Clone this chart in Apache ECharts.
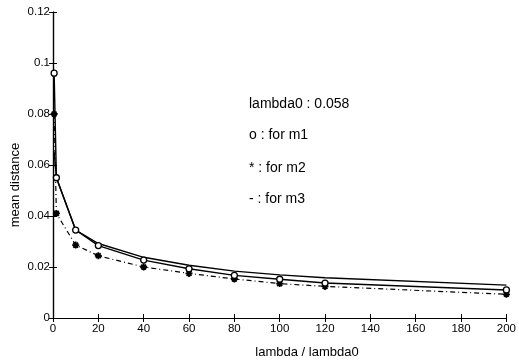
<!DOCTYPE html>
<html>
<head>
<meta charset="utf-8">
<script src="https://cdn.jsdelivr.net/npm/echarts@6/dist/echarts.min.js"></script>
<style>html,body{margin:0;padding:0;background:#fff}#c{width:519px;height:361px}</style>
</head>
<body>
<div id="c"></div>
<script>
var xValues = [0.5, 1.5, 10, 20, 40, 60, 80, 100, 120, 200];
var m1 = [0.096, 0.055, 0.0345, 0.0284, 0.0227, 0.0193, 0.0167, 0.0152, 0.0137, 0.0110];
var m2 = [0.080, 0.041, 0.0286, 0.0244, 0.0200, 0.0175, 0.0153, 0.0135, 0.0124, 0.0093];
var m3 = [0.065, 0.055, 0.0345, 0.0292, 0.0238, 0.0207, 0.0184, 0.0169, 0.0158, 0.0129];
var xTicks = [0, 20, 40, 60, 80, 100, 120, 140, 160, 180, 200];
var yTicks = [0, 0.02, 0.04, 0.06, 0.08, 0.1, 0.12];
var legendLines = ['lambda0 : 0.058', 'o : for m1', '* : for m2', '- : for m3'];

function pairs(ys){ return xValues.map(function(x,i){ return [x, ys[i]]; }); }
var FONT = '"Liberation Sans", Arial, sans-serif';
var starPath = 'path://M0,5L10,5M5,0L5,10M1.5,1.5L8.5,8.5M8.5,1.5L1.5,8.5';

var chart = echarts.init(document.getElementById('c'), null, {renderer:'canvas'});
var axisCommon = {
  axisLine:{show:true, lineStyle:{color:'#000', width:1.2}},
  axisTick:{show:true, inside:true, length:4, lineStyle:{color:'#000', width:1}},
  splitLine:{show:false}
};
chart.setOption({
  animation:false,
  backgroundColor:'#fff',
  grid:{left:53, right:10, top:12, bottom:43},
  xAxis:[
    Object.assign({type:'value', min:xTicks[0], max:xTicks[xTicks.length-1], interval:20, position:'bottom',
      axisLabel:{color:'#000', fontSize:11.5, fontFamily:FONT, margin:5}}, axisCommon),
    Object.assign({type:'value', min:xTicks[0], max:xTicks[xTicks.length-1], interval:20, position:'top',
      axisLabel:{show:false}}, axisCommon)
  ],
  yAxis:[
    Object.assign({type:'value', min:yTicks[0], max:yTicks[yTicks.length-1], interval:0.02, position:'left',
      axisLabel:{color:'#000', fontSize:11.5, fontFamily:FONT, margin:3}}, axisCommon),
    Object.assign({type:'value', min:yTicks[0], max:yTicks[yTicks.length-1], interval:0.02, position:'right',
      axisLabel:{show:false}}, axisCommon)
  ],
  series:[
    {type:'line', name:'m3', data:pairs(m3), showSymbol:false, symbol:'none',
      lineStyle:{color:'#000', width:1.4}, z:2},
    {type:'line', name:'m2', data:pairs(m2), symbol:starPath, symbolSize:7,
      itemStyle:{color:'none', borderColor:'#000', borderWidth:1.8},
      lineStyle:{color:'#000', width:1.2, type:[5,3,1,3]}, z:3},
    {type:'line', name:'m1', data:pairs(m1), symbol:'circle', symbolSize:6,
      itemStyle:{color:'#fff', borderColor:'#000', borderWidth:1.3},
      lineStyle:{color:'#000', width:1.4}, z:4}
  ],
  graphic:[
    {type:'text', left:249, top:97, style:{text:legendLines[0], fill:'#000', font:'14px '+FONT}},
    {type:'text', left:249, top:128, style:{text:legendLines[1], fill:'#000', font:'14px '+FONT}},
    {type:'text', left:249, top:161, style:{text:legendLines[2], fill:'#000', font:'14px '+FONT}},
    {type:'text', left:249, top:192, style:{text:legendLines[3], fill:'#000', font:'14px '+FONT}},
    {type:'text', x:307, y:352, style:{text:'lambda / lambda0', fill:'#000', font:'13px '+FONT, align:'center', verticalAlign:'middle'}},
    {type:'text', x:15, y:185, rotation:Math.PI/2, style:{text:'mean distance', fill:'#000', font:'13px '+FONT, align:'center', verticalAlign:'middle'}}
  ]
});
</script>
</body>
</html>
